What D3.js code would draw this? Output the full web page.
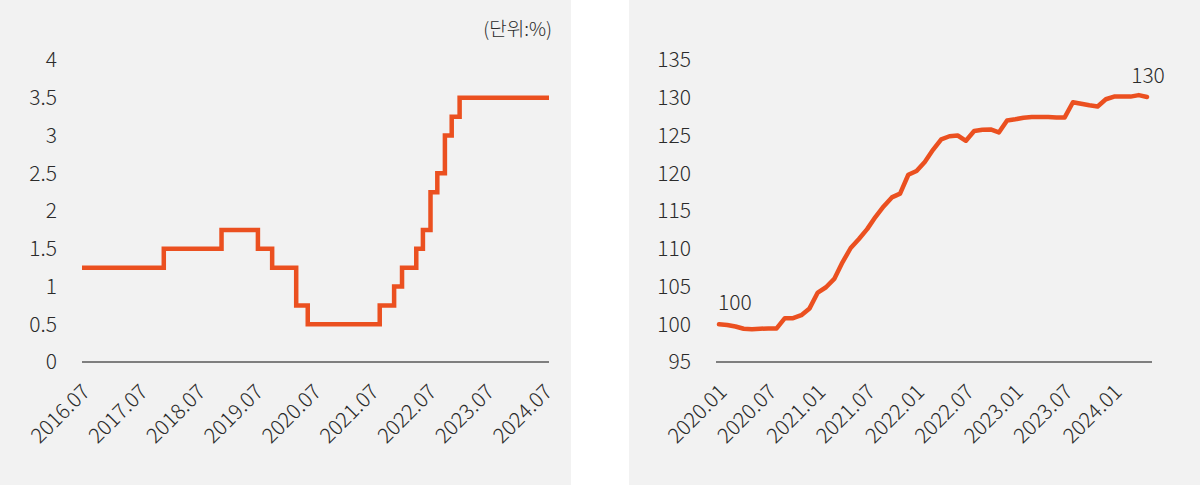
<!DOCTYPE html>
<html>
<head>
<meta charset="utf-8">
<script src="https://cdn.jsdelivr.net/npm/d3@7"></script>
<style>
  html, body { margin: 0; padding: 0; background: #ffffff; }
  svg { display: block; }
  text { font-family: "Noto Sans CJK KR", "Noto Sans", sans-serif; }
</style>
</head>
<body>
<svg id="chart" width="1200" height="485"></svg>
<script>
// ---------- Left panel: base rate (%) ----------
const rateDates = ["2016-07-01","2017-11-30","2018-11-30","2019-07-18","2019-10-16","2020-03-16","2020-05-28",
  "2021-08-26","2021-11-25","2022-01-14","2022-04-14","2022-05-26","2022-07-13","2022-08-25","2022-10-12",
  "2022-11-24","2023-01-13","2024-07-31"];
const rateValues = [1.25,1.50,1.75,1.50,1.25,0.75,0.50,0.75,1.00,1.25,1.50,1.75,2.25,2.50,3.00,3.25,3.50,3.50];
const rateTickLabels = ["2016.07","2017.07","2018.07","2019.07","2020.07","2021.07","2022.07","2023.07","2024.07"];
const rateYTicks = [0,0.5,1,1.5,2,2.5,3,3.5,4];
const unitLabel = "(단위:%)";

// ---------- Right panel: index (2020.01 = 100) ----------
const idxMonths = ["2020.01","2020.02","2020.03","2020.04","2020.05","2020.06","2020.07","2020.08","2020.09","2020.10","2020.11","2020.12",
  "2021.01","2021.02","2021.03","2021.04","2021.05","2021.06","2021.07","2021.08","2021.09","2021.10","2021.11","2021.12",
  "2022.01","2022.02","2022.03","2022.04","2022.05","2022.06","2022.07","2022.08","2022.09","2022.10","2022.11","2022.12",
  "2023.01","2023.02","2023.03","2023.04","2023.05","2023.06","2023.07","2023.08","2023.09","2023.10","2023.11","2023.12",
  "2024.01","2024.02","2024.03","2024.04","2024.05"];
const idxValues = [100.0,99.9,99.7,99.4,99.35,99.4,99.45,99.45,100.8,100.8,101.2,102.1,
  104.2,104.9,106.0,108.2,110.1,111.3,112.6,114.2,115.6,116.8,117.3,119.8,
  120.3,121.5,123.1,124.5,124.9,125.0,124.3,125.6,125.75,125.8,125.4,127.0,
  127.15,127.35,127.45,127.45,127.45,127.4,127.4,129.4,129.2,129.0,128.85,129.8,
  130.15,130.15,130.15,130.35,130.1];
const idxTickLabels = ["2020.01","2020.07","2021.01","2021.07","2022.01","2022.07","2023.01","2023.07","2024.01"];
const idxYTicks = [95,100,105,110,115,120,125,130,135];

const LINE = "#EB5020";
const BG = "#F2F2F2";
const TXT = "#2b2b2b";
const AXIS = "#7f7f7f";
const FS = 21;
const FW = 300;

const svg = d3.select("#chart");
const parse = d3.timeParse("%Y-%m-%d");
const parseYM = d3.timeParse("%Y.%m");

// panels
svg.append("rect").attr("x",0).attr("y",0).attr("width",571).attr("height",485).attr("fill",BG);
svg.append("rect").attr("x",629).attr("y",0).attr("width",571).attr("height",485).attr("fill",BG);

const plotTop = 60, plotBottom = 362;

// ----- left -----
const xL = d3.scaleTime().domain([parse("2016-07-01"), parse("2024-07-31")]).range([82, 549]);
const yL = d3.scaleLinear().domain([0,4]).range([plotBottom, plotTop]);

const gL = svg.append("g");
gL.selectAll("text.yt").data(rateYTicks).join("text")
  .attr("class","yt")
  .attr("x",57).attr("y",d=>yL(d)).attr("dy","0.35em")
  .attr("text-anchor","end").attr("font-size",FS).attr("font-weight",FW).attr("fill",TXT)
  .text(d=>d3.format("~g")(d));
gL.append("line").attr("x1",xL.range()[0]).attr("x2",xL.range()[1]).attr("y1",yL(0)).attr("y2",yL(0))
  .attr("stroke",AXIS).attr("stroke-width",2);
gL.selectAll("text.xt").data(rateTickLabels).join("text")
  .attr("class","xt")
  .attr("transform",d=>`translate(${xL(parseYM(d))+4},${plotBottom+26}) rotate(-45)`)
  .attr("dy","0.35em")
  .attr("text-anchor","end").attr("font-size",FS).attr("font-weight",FW).attr("fill",TXT)
  .text(d=>d);
const rateData = rateDates.map((d,i)=>({x:parse(d), y:rateValues[i]}));
gL.append("path").datum(rateData)
  .attr("d", d3.line().x(d=>xL(d.x)).y(d=>yL(d.y)).curve(d3.curveStepAfter))
  .attr("fill","none").attr("stroke",LINE).attr("stroke-width",4.5)
  .attr("stroke-linejoin","miter").attr("stroke-linecap","butt");
gL.append("text").attr("x",552).attr("y",29).attr("dy","0.35em")
  .attr("text-anchor","end").attr("font-size",19).attr("font-weight",FW).attr("fill",TXT)
  .text(unitLabel);

// ----- right -----
const xR = d3.scalePoint().domain(idxMonths).range([719, 1147]);
const yR = d3.scaleLinear().domain([95,135]).range([plotBottom, plotTop]);
const gR = svg.append("g");
gR.selectAll("text.yt").data(idxYTicks).join("text")
  .attr("class","yt")
  .attr("x",691).attr("y",d=>yR(d)).attr("dy","0.35em")
  .attr("text-anchor","end").attr("font-size",FS).attr("font-weight",FW).attr("fill",TXT)
  .text(d=>d);
gR.append("line").attr("x1",716).attr("x2",1152).attr("y1",yR(95)).attr("y2",yR(95))
  .attr("stroke",AXIS).attr("stroke-width",2);
gR.selectAll("text.xt").data(idxTickLabels).join("text")
  .attr("class","xt")
  .attr("transform",d=>`translate(${xR(d)+4},${plotBottom+26}) rotate(-45)`)
  .attr("dy","0.35em")
  .attr("text-anchor","end").attr("font-size",FS).attr("font-weight",FW).attr("fill",TXT)
  .text(d=>d);
gR.append("path").datum(idxValues)
  .attr("d", d3.line().x((d,i)=>xR(idxMonths[i])).y(d=>yR(d)))
  .attr("fill","none").attr("stroke",LINE).attr("stroke-width",4.5)
  .attr("stroke-linejoin","round").attr("stroke-linecap","round");
// annotations
const first = 0, last = idxValues.length-1;
gR.append("text").attr("x",xR(idxMonths[first])-1).attr("y",yR(idxValues[first])-14)
  .attr("font-size",FS).attr("font-weight",FW).attr("fill",TXT).text(d3.format("d")(idxValues[first]));
gR.append("text").attr("x",xR(idxMonths[last])+1).attr("y",yR(idxValues[last])-14)
  .attr("text-anchor","middle").attr("font-size",FS).attr("font-weight",FW).attr("fill",TXT)
  .text(d3.format(".0f")(idxValues[last]));
</script>
</body>
</html>
